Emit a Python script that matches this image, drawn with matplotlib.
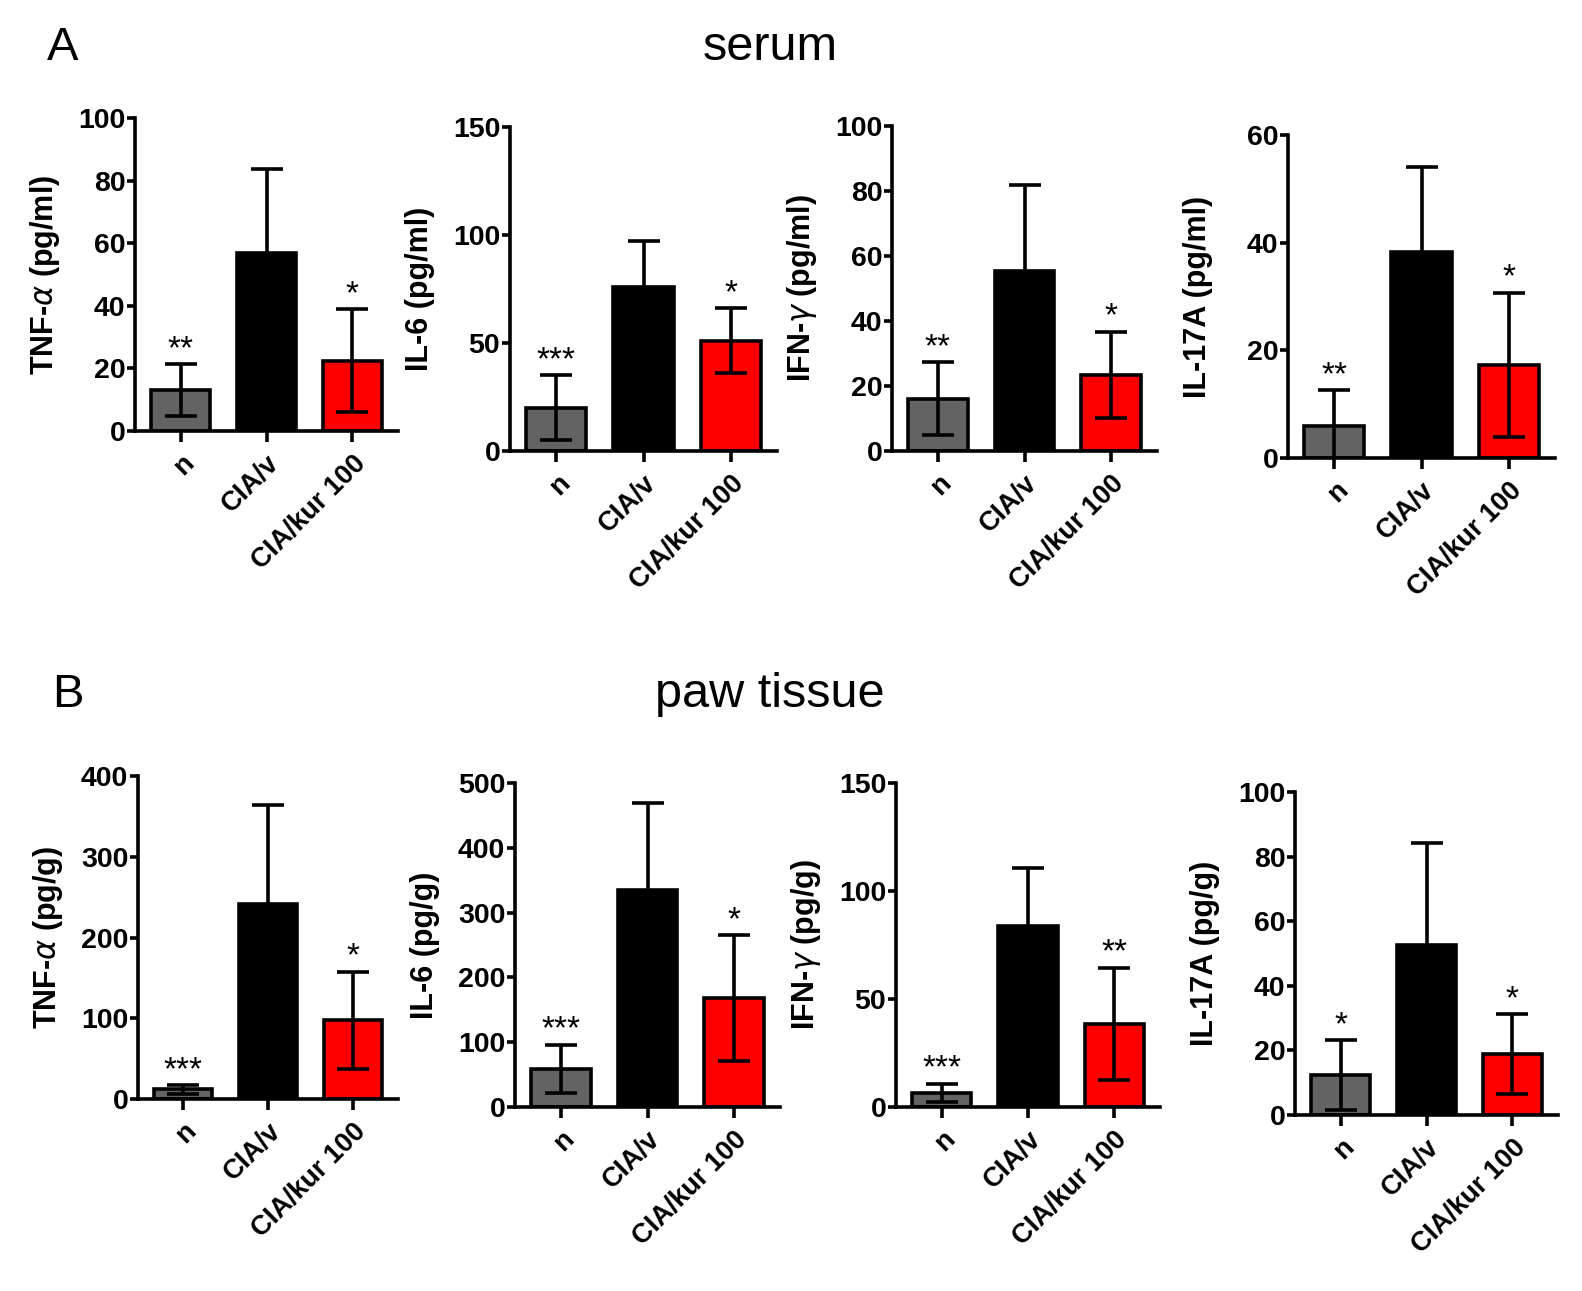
import matplotlib.pyplot as plt

plt.rcParams['font.family'] = ['Liberation Sans', 'DejaVu Sans']
plt.rcParams['mathtext.fontset'] = 'dejavusans'

groups = ["n", "CIA/v", "CIA/kur 100"]
colors = ["#636363", "#000000", "#ff0000"]

# A - serum (pg/ml)
serum_labels = [r"TNF-$\alpha$ (pg/ml)", "IL-6 (pg/ml)", r"IFN-$\gamma$ (pg/ml)", "IL-17A (pg/ml)"]
serum_ymax = [100, 150, 100, 60]
serum_step = [20, 50, 20, 20]
serum_mean = [[13.1, 56.8, 22.5], [20.0, 76.0, 51.0], [16.1, 55.5, 23.4], [5.9, 38.2, 17.3]]
serum_sd = [[8.2, 27.0, 16.4], [15.0, 21.3, 15.0], [11.2, 26.3, 13.3], [6.7, 15.9, 13.4]]
serum_stars = [["**", "", "*"], ["***", "", "*"], ["**", "", "*"], ["**", "", "*"]]

# B - paw tissue (pg/g)
paw_labels = [r"TNF-$\alpha$ (pg/g)", "IL-6 (pg/g)", r"IFN-$\gamma$ (pg/g)", "IL-17A (pg/g)"]
paw_ymax = [400, 500, 150, 100]
paw_step = [100, 100, 50, 20]
paw_mean = [[12.0, 242.0, 97.7], [59.0, 335.0, 168.0], [6.6, 83.8, 38.5], [12.4, 52.6, 18.8]]
paw_sd = [[5.3, 122.0, 60.0], [37.0, 134.0, 97.0], [4.2, 26.8, 26.0], [10.8, 31.6, 12.4]]
paw_stars = [["***", "", "*"], ["***", "", "*"], ["***", "", "**"], ["*", "", "*"]]

W, H = 1582, 1291
# axis boxes in pixels: left, right, y of zero line, y of top
boxes_a = [(135, 398, 431, 118), (510, 777, 451, 127), (892, 1157, 451, 126), (1288, 1555, 458, 135)]
boxes_b = [(138, 398, 1099, 776), (515, 780, 1107, 783), (896, 1160, 1107, 783), (1295, 1558, 1115, 792)]

fig = plt.figure(figsize=(W / 100, H / 100), dpi=100)
LW = 2.6


def panel(box, ylabel, ymax, step, mean, sd, stars):
    left, right, y0, ytop = box
    ax = fig.add_axes([left / W, 1 - y0 / H, (right - left) / W, (y0 - ytop) / H])
    x = list(range(len(groups)))
    ax.bar(x, mean, width=0.69, color=colors, edgecolor="black", linewidth=LW, zorder=2)
    ax.errorbar(x, mean, yerr=sd, fmt="none", ecolor="black", elinewidth=LW,
                capsize=11.5, capthick=LW, zorder=3)
    for xi, m, s, st in zip(x, mean, sd, stars):
        if st:
            ax.annotate(st, (xi, m + s), xytext=(0, 4.5), textcoords="offset points",
                        ha="center", va="baseline", fontsize=24)
    ax.set_xlim(-0.53, 2.53)
    ax.set_ylim(0, ymax)
    ax.set_yticks(range(0, ymax + 1, step))
    ax.set_xticks(x)
    ax.set_xticklabels(groups, rotation=45, ha="right", rotation_mode="anchor",
                       fontsize=19.5, fontweight="bold")
    for t in ax.get_yticklabels():
        t.set_fontsize(20.5)
        t.set_fontweight("bold")
    ax.spines["top"].set_visible(False)
    ax.spines["right"].set_visible(False)
    ax.spines["left"].set_linewidth(LW)
    ax.spines["bottom"].set_linewidth(LW)
    ax.tick_params(axis="y", length=6, width=LW, pad=1)
    ax.tick_params(axis="x", length=8, width=LW, pad=6)
    ax.set_ylabel(ylabel, fontsize=22, fontweight="bold", va="center")
    ax.yaxis.set_label_coords(-90 / (right - left), 0.5)
    ax.patch.set_alpha(0)
    return ax


for i in range(4):
    panel(boxes_a[i], serum_labels[i], serum_ymax[i], serum_step[i],
          serum_mean[i], serum_sd[i], serum_stars[i])
    panel(boxes_b[i], paw_labels[i], paw_ymax[i], paw_step[i],
          paw_mean[i], paw_sd[i], paw_stars[i])

fig.text(47 / W, 1 - 60 / H, "A", fontsize=34, ha="left", va="baseline")
fig.text(770 / W, 1 - 60 / H, "serum", fontsize=35, ha="center", va="baseline")
fig.text(52 / W, 1 - 707 / H, "B", fontsize=34, ha="left", va="baseline")
fig.text(770 / W, 1 - 707 / H, "paw tissue", fontsize=35, ha="center", va="baseline")

fig.savefig("out.png", dpi=100)
